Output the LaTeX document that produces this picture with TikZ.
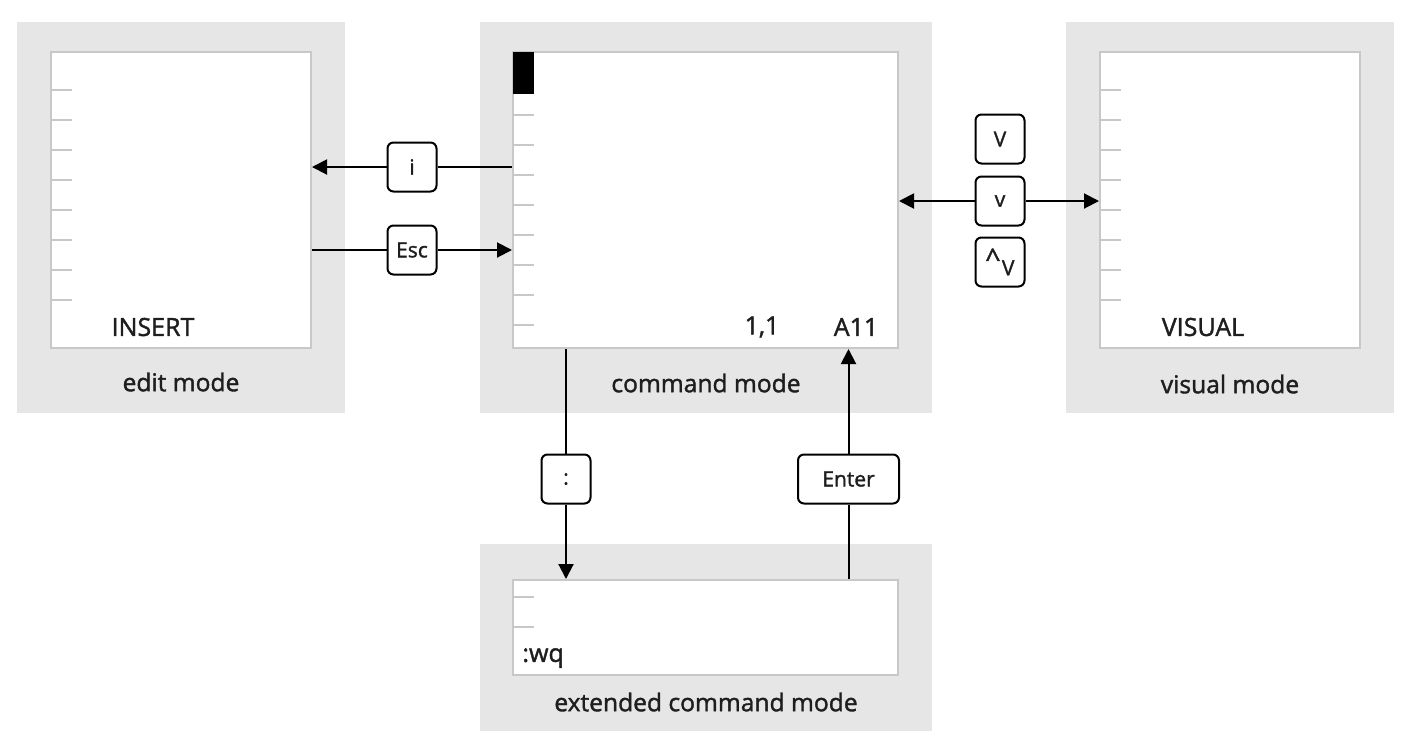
\documentclass[tikz,border=0pt]{standalone}
\usepackage{fontspec}
\setmainfont{Open Sans}[UprightFeatures={FakeBold=1.5}]
\usetikzlibrary{arrows.meta}
\definecolor{panelgray}{HTML}{E6E6E6}
\definecolor{bordergray}{HTML}{C8C8C8}
\definecolor{textdark}{HTML}{1E1E1E}
\tikzset{
 panel/.style={fill=panelgray, draw=none, inner sep=0pt, rectangle},
 screen/.style={fill=white, draw=bordergray, line width=1pt, inner sep=0pt, rectangle},
 tickline/.style={draw=bordergray, line width=1pt},
 key/.style={draw=black, line width=1pt, rounded corners=3pt, fill=white, minimum width=24.5pt, minimum height=24.5pt, inner sep=0pt, font=\fontsize{10.5}{12}\selectfont, text=textdark},
 conn/.style={line width=1pt, draw=black},
 arr/.style={conn, -{Triangle[length=7.5pt,width=7.5pt]}},
 modelabel/.style={font=\fontsize{12.3}{14}\selectfont, text=textdark, inner sep=0pt},
 screentext/.style={font=\fontsize{12.5}{14}\selectfont, text=textdark, inner sep=0pt}
}
\begin{document}
\begin{tikzpicture}[x=0.5pt,y=-0.5pt]
\useasboundingbox (0,0) rectangle (1408,746);
% panels
\node[panel, minimum width=164pt, minimum height=195.5pt] (editpanel) at (181,217.5) {};
\node[panel, minimum width=226pt, minimum height=195.5pt] (cmdpanel) at (706,217.5) {};
\node[panel, minimum width=164pt, minimum height=195.5pt] (vispanel) at (1230,217.5) {};
\node[panel, minimum width=226pt, minimum height=93.5pt] (extpanel) at (706,637.5) {};
% screens
\node[screen, minimum width=130pt, minimum height=148pt] (editscr) at (181,200) {};
\node[screen, minimum width=192.5pt, minimum height=148pt] (cmdscr) at (705.5,200) {};
\node[screen, minimum width=130pt, minimum height=148pt] (visscr) at (1230,200) {};
\node[screen, minimum width=192.5pt, minimum height=47.5pt] (extscr) at (705.5,627.5) {};
% ticks
\foreach \y in {90,120,...,300} {
  \draw[tickline] (51,\y) -- (72,\y);
  \draw[tickline] (1100,\y) -- (1121,\y);
}
\foreach \y in {115,145,...,325} {
  \draw[tickline] (513,\y) -- (534,\y);
}
\foreach \y in {597,627} {
  \draw[tickline] (513,\y) -- (534,\y);
}
% cursor
\fill[black] (513,52) rectangle (534,94);
% screen texts
\node[screentext] (ins) at (153,327) {INSERT};
\node[screentext] (pos) at (762,327) {1,1};
\node[screentext] (all) at (856,327) {A11};
\node[screentext] (vis) at (1203,327) {VISUAL};
\node[screentext, anchor=west] (wq) at (522,658) {:wq};
% mode labels
\node[modelabel] (editlab) at (181,382) {edit mode};
\node[modelabel] (cmdlab) at (706,383) {command mode};
\node[modelabel] (vislab) at (1230,384) {visual mode};
\node[modelabel] (extlab) at (706,702) {extended command mode};
% keys
\node[key] (ikey) at (412,167) {i};
\node[key] (esckey) at (412,250) {Esc};
\node[key] (Vkey) at (1000,139) {V};
\node[key] (vkey) at (1000,201) {v};
\node[key] (cvkey) at (1000,262) {\raisebox{1pt}{\scalebox{1.3}{\textasciicircum}}\kern0.8pt\raisebox{-2.5pt}{V}};
\node[key] (colkey) at (566,479) {:};
\node[key, minimum width=50.5pt] (enterkey) at (848.5,479) {Enter};
% connectors
\draw[conn] (cmdscr.west |- ikey) -- (ikey.east);
\draw[arr] (ikey.west) -- (editscr.east |- ikey);
\draw[conn] (editscr.east |- esckey) -- (esckey.west);
\draw[arr] (esckey.east) -- (cmdscr.west |- esckey);
\draw[arr] (vkey.west) -- (cmdscr.east |- vkey);
\draw[arr] (vkey.east) -- (visscr.west |- vkey);
\draw[conn] (colkey |- cmdscr.south) -- (colkey.north);
\draw[arr] (colkey.south) -- (colkey |- extscr.north);
\draw[conn] (enterkey |- extscr.north) -- (enterkey.south);
\draw[arr] (enterkey.north) -- (enterkey |- cmdscr.south);
\end{tikzpicture}
\end{document}
